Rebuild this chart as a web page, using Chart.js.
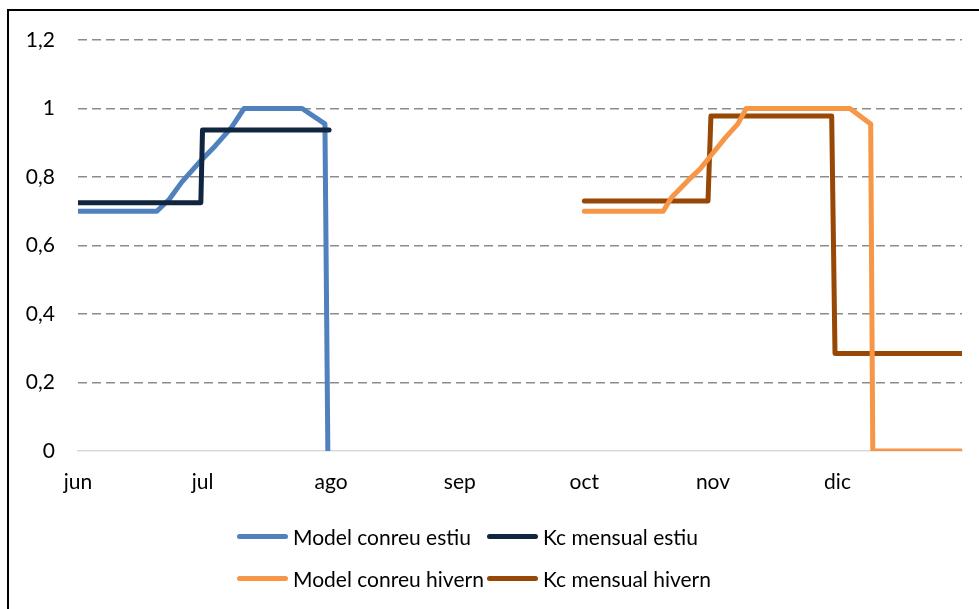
<!DOCTYPE html>
<html>
<head>
<meta charset="utf-8">
<script src="https://cdn.jsdelivr.net/npm/chart.js@4/dist/chart.umd.min.js"></script>
<style>
  html, body { margin: 0; padding: 0; background: #fff; overflow: hidden; }
  #wrap { position: relative; width: 979px; height: 609px; }
  #frame { position: absolute; left: 7px; top: 9px; width: 980px; height: 610px;
           border-left: 2px solid #000; border-top: 2px solid #000; pointer-events: none; }
  #legend { position: absolute; left: 237px; top: 515px; display: grid;
            grid-template-columns: 250px 250px; grid-auto-rows: 42px;
            font-family: Lato, "Liberation Sans", sans-serif; font-size: 21px; color: #000; }
  .item { display: flex; align-items: center; white-space: nowrap; }
  .swatch { display: inline-block; width: 51px; height: 5px; border-radius: 3px; margin-right: 5px; }
</style>
</head>
<body>
<div id="wrap">
  <canvas id="chart" width="979" height="609"></canvas>
  <div id="frame"></div>
  <div id="legend"></div>
</div>
<script>
// month ticks (days counted from 1 June)
const monthLabels = ["jun", "jul", "ago", "sep", "oct", "nov", "dic"];
const monthStartDays = [0, 30, 61, 92, 122, 153, 183];
const yTicks = [0, 0.2, 0.4, 0.6, 0.8, 1, 1.2];

// Model conreu estiu
const modelEstiuDays = [0, 19, 22, 25, 29, 33, 37, 40, 54, 59.5, 60.2];
const modelEstiuKc = [0.70, 0.70, 0.735, 0.785, 0.84, 0.89, 0.945, 1.0, 1.0, 0.955, 0];

// Kc mensual estiu
const kcEstiuDays = [0, 29.6, 30, 60.5];
const kcEstiuKc = [0.725, 0.725, 0.937, 0.937];

// Model conreu hivern
const modelHivernDays = [122, 141, 143, 147, 150, 153, 156, 159, 161, 186, 191, 191.5, 213];
const modelHivernKc = [0.70, 0.70, 0.74, 0.79, 0.825, 0.87, 0.915, 0.955, 1.0, 1.0, 0.955, 0, 0];

// Kc mensual hivern
const kcHivernDays = [122, 151.8, 152.5, 181.6, 182.4, 213];
const kcHivernKc = [0.73, 0.73, 0.978, 0.978, 0.285, 0.285];

const seriesNames = ["Model conreu estiu", "Kc mensual estiu", "Model conreu hivern", "Kc mensual hivern"];
const seriesColors = ["#4F81BD", "#10253F", "#F79646", "#974706"];

function points(xs, ys) {
    return xs.map((x, i) => ({ x: x, y: ys[i] }));
}

const seriesData = [
    points(modelEstiuDays, modelEstiuKc),
    points(kcEstiuDays, kcEstiuKc),
    points(modelHivernDays, modelHivernKc),
    points(kcHivernDays, kcHivernKc),
];
// drawing order: lower value is drawn on top
const drawOrder = [3, 2, 0, 1];

Chart.defaults.font.family = "Lato, 'Liberation Sans', sans-serif";
Chart.defaults.font.size = 21;
Chart.defaults.color = "#000";

const datasets = seriesNames.map((name, i) => ({
    label: name,
    data: seriesData[i],
    borderColor: seriesColors[i],
    backgroundColor: seriesColors[i],
    borderWidth: 5,
    borderCapStyle: "round",
    borderJoinStyle: "round",
    pointRadius: 0,
    tension: 0,
    order: drawOrder[i],
}));

new Chart(document.getElementById("chart"), {
    type: "line",
    data: { datasets: datasets },
    options: {
        responsive: false,
        animation: false,
        layout: { padding: { left: 8, right: 17, top: 40, bottom: 98 } },
        plugins: {
            legend: { display: false },
            tooltip: { enabled: false },
        },
        scales: {
            x: {
                type: "linear",
                min: 0,
                max: 213,
                afterBuildTicks: (scale) => {
                    scale.ticks = monthStartDays.map((v) => ({ value: v }));
                },
                afterFit: (scale) => {
                    scale.height = 60;
                },
                ticks: {
                    autoSkip: false,
                    maxRotation: 0,
                    padding: 19,
                    callback: (v) => monthLabels[monthStartDays.indexOf(v)],
                },
                grid: { display: false, drawTicks: false },
                border: { display: true, color: "#d9d9d9", width: 1.5 },
            },
            y: {
                min: 0,
                max: 1.2,
                afterBuildTicks: (scale) => {
                    scale.ticks = yTicks.map((v) => ({ value: v }));
                },
                afterFit: (scale) => {
                    scale.width = 70;
                },
                ticks: {
                    padding: 23,
                    callback: (v) => String(Math.round(v * 10) / 10).replace(".", ","),
                },
                grid: {
                    drawTicks: false,
                    lineWidth: 1.5,
                    color: (ctx) => (ctx.tick && ctx.tick.value === 0 ? "rgba(0,0,0,0)" : "#8c8c8c"),
                },
                border: { display: false, dash: [9, 5] },
            },
        },
    },
});

// legend, two columns like the original
const legend = document.getElementById("legend");
seriesNames.forEach((name, i) => {
    const item = document.createElement("div");
    item.className = "item";
    const sw = document.createElement("span");
    sw.className = "swatch";
    sw.style.background = seriesColors[i];
    item.appendChild(sw);
    item.appendChild(document.createTextNode(name));
    legend.appendChild(item);
});
</script>
</body>
</html>
